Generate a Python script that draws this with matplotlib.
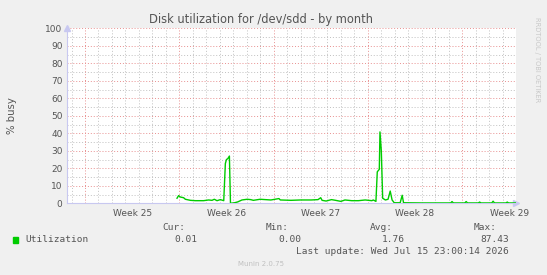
import numpy as np
import matplotlib
matplotlib.use("Agg")
import matplotlib.pyplot as plt
from matplotlib.ticker import MultipleLocator, FixedLocator

# days counted from the start of week 25
day = [6.83, 6.95, 7.07, 7.32, 7.45, 7.82, 8.2, 8.8, 9.18, 9.43, 9.6, 9.8, 10.05, 10.3,
       10.42, 10.5, 10.6, 10.72, 10.8, 11.1, 11.34, 11.65, 12.04, 12.3, 12.5, 13.0, 13.4,
       13.8, 14.4, 14.5, 15.3, 16.0, 16.8, 17.3, 17.5, 17.6, 17.9, 18.3, 18.6, 19.0, 19.3,
       19.8, 20.3, 20.8, 21.3, 21.4, 21.6, 21.7, 21.85, 21.9, 22.0, 22.1, 22.3, 22.5, 22.66,
       22.8, 22.96, 23.4, 23.55, 23.65, 25.0, 27.15, 27.25, 27.35, 28.2, 28.3, 28.4, 29.2,
       29.3, 29.4, 30.2, 30.3, 30.4, 31.25, 31.35, 31.45, 32.0]
busy = [2.9, 4.4, 3.6, 3.2, 2.3, 1.7, 1.5, 1.5, 1.9, 1.7, 2.3, 1.5, 2.1, 1.5,
        22.7, 25.0, 25.5, 27.0, 0.0, 0.3, 0.8, 1.9, 2.3, 2.1, 1.7, 2.3, 2.1,
        1.9, 2.7, 1.9, 1.7, 1.9, 1.9, 2.1, 3.2, 1.7, 1.3, 2.1, 1.7, 1.1, 1.9,
        1.5, 1.5, 1.9, 1.5, 1.9, 1.1, 18.0, 19.4, 40.8, 30.0, 2.9, 1.9, 2.3, 7.0,
        1.9, 0.3, 0.3, 4.6, 0.3, 0.2, 0.2, 1.0, 0.2, 0.2, 1.0, 0.2, 0.2,
        0.7, 0.2, 0.2, 1.2, 0.2, 0.2, 0.7, 0.2, 0.2]

week_start = [0, 7, 14, 21, 28]
week_labels = ["Week 25", "Week 26", "Week 27", "Week 28", "Week 29"]
x_range = (-1.36, 32.0)

stat_names = ["Cur:", "Min:", "Avg:", "Max:"]
stat_values = ["0.01", "0.00", "1.76", "87.43"]

W, H = 547, 275
fig = plt.figure(figsize=(W / 100, H / 100), dpi=100, facecolor="#f0f0f0")
ax = fig.add_axes([66.7 / W, 1 - 203.3 / H, (516 - 66.7) / W, (203.3 - 28.3) / H])
ax.set_facecolor("white")

# grid: daily / every 5 in gray, weekly / every 10 in red
for d in np.arange(np.ceil(x_range[0]), x_range[1] + 0.01, 1):
    if d % 7 != 0:
        ax.axvline(d, color="#c0c0c0", lw=0.7, ls=(0, (1, 2)), zorder=1)
for v in range(5, 100, 10):
    ax.axhline(v, color="#c0c0c0", lw=0.7, ls=(0, (1, 2)), zorder=1)
for d in week_start:
    ax.axvline(d, color="#e89090", lw=0.7, ls=(0, (1, 2)), zorder=1)
for v in range(10, 101, 10):
    ax.axhline(v, color="#e89090", lw=0.7, ls=(0, (1, 2)), zorder=1)

ax.plot(day, busy, color="#00cc00", lw=1.0, zorder=3)

ax.set_xlim(*x_range)
ax.set_ylim(0, 100)
ax.yaxis.set_major_locator(MultipleLocator(10))
ax.xaxis.set_major_locator(FixedLocator([w + 3.5 for w in week_start]))
ax.set_xticklabels(week_labels)
ax.tick_params(axis="both", length=0, labelsize=6.5, labelcolor="#555555", pad=3)
ax.tick_params(axis="x", pad=4)

for s in ["top", "right"]:
    ax.spines[s].set_visible(False)
for s in ["left", "bottom"]:
    ax.spines[s].set_color("#c8c8f0")
    ax.spines[s].set_linewidth(0.8)
ax.plot([0], [1], marker="^", ms=4, color="#c8c8f0", transform=ax.transAxes, clip_on=False)
ax.plot([1], [0], marker=">", ms=4, color="#c8c8f0", transform=ax.transAxes, clip_on=False)

fig.text(12 / W, 1 - 116 / H, "% busy", rotation=90, ha="center", va="center",
         fontsize=7.3, color="#555555")

fig.text(261 / W, 1 - 19 / H, "Disk utilization for /dev/sdd - by month", ha="center",
         va="center", fontsize=8.3, color="#555555")
fig.text(537 / W, 1 - 60 / H, "RRDTOOL / TOBI OETIKER", rotation=270, ha="center",
         va="center", fontsize=4.8, color="#c8c8c8")

mono = {"family": "DejaVu Sans Mono", "fontsize": 6.8, "color": "#555555"}
fig.patches.append(plt.Rectangle((13 / W, 1 - 243 / H), 5 / W, 6 / H, color="#00cc00",
                                 transform=fig.transFigure, figure=fig))
fig.text(25 / W, 1 - 240 / H, "Utilization", ha="left", va="center", **mono)
for i, (n, v) in enumerate(zip(stat_names, stat_values)):
    fig.text((185 + i * 104) / W, 1 - 227 / H, n, ha="right", va="center", **mono)
    fig.text((197 + i * 104) / W, 1 - 240 / H, v, ha="right", va="center", **mono)
fig.text(509 / W, 1 - 252 / H, "Last update: Wed Jul 15 23:00:14 2026", ha="right",
         va="center", **mono)
fig.text(261 / W, 1 - 264 / H, "Munin 2.0.75", ha="center", va="center", fontsize=5,
         color="#c0c0c0")

fig.savefig("out.png", dpi=100, facecolor=fig.get_facecolor())
